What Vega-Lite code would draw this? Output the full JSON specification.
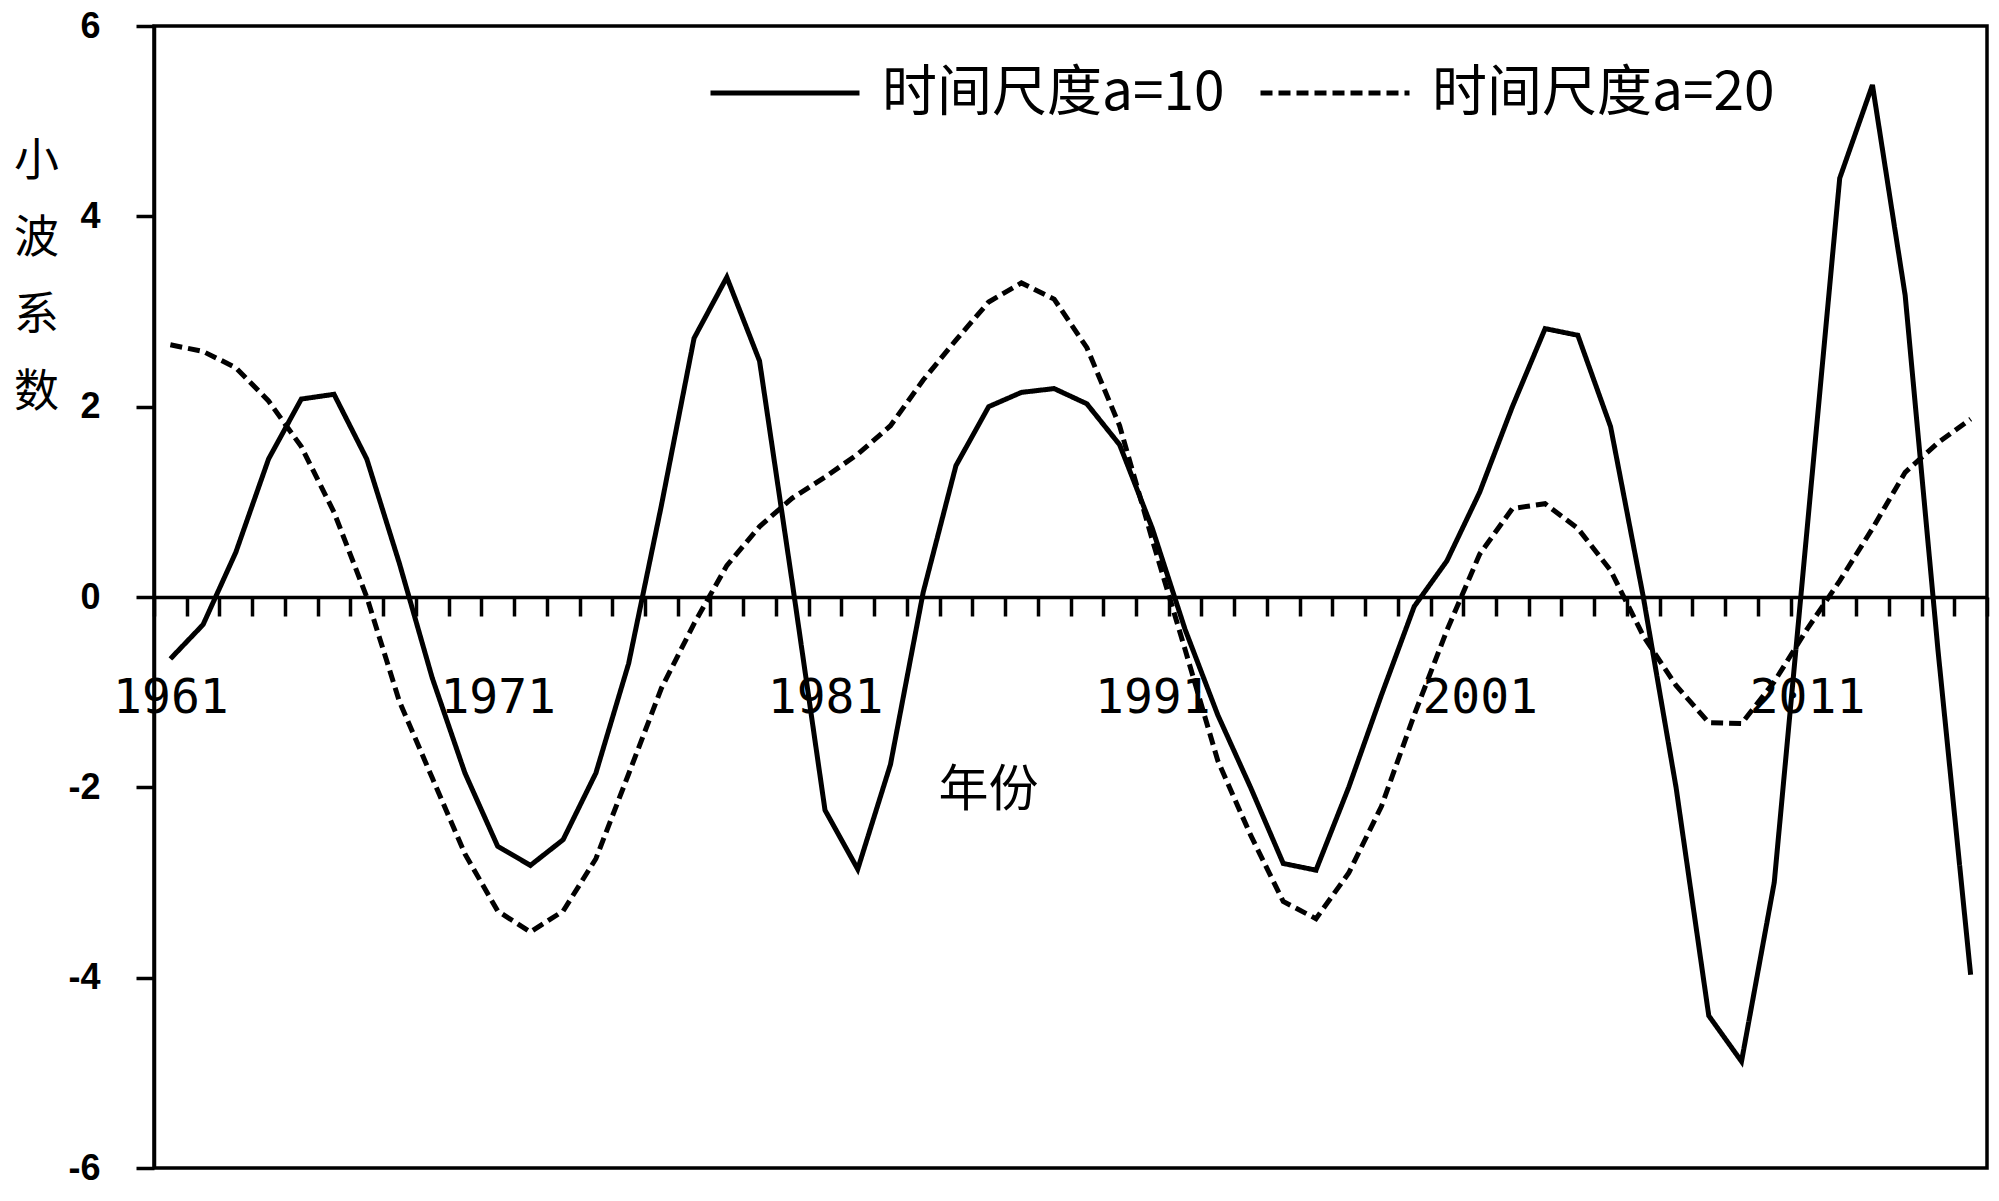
{
  "$schema": "https://vega.github.io/schema/vega-lite/v6.json",
  "width": 1833,
  "height": 1142,
  "autosize": {"type": "none"},
  "padding": {"left": 154, "top": 26, "right": 12, "bottom": 33},
  "background": "white",
  "config": {
    "view": {"stroke": "black", "strokeWidth": 3.5}
  },
  "data": {
    "values": [
      {"year": 1961, "series": "时间尺度a=10", "value": -0.65},
      {"year": 1962, "series": "时间尺度a=10", "value": -0.29},
      {"year": 1963, "series": "时间尺度a=10", "value": 0.47},
      {"year": 1964, "series": "时间尺度a=10", "value": 1.45},
      {"year": 1965, "series": "时间尺度a=10", "value": 2.08},
      {"year": 1966, "series": "时间尺度a=10", "value": 2.13},
      {"year": 1967, "series": "时间尺度a=10", "value": 1.45},
      {"year": 1968, "series": "时间尺度a=10", "value": 0.35},
      {"year": 1969, "series": "时间尺度a=10", "value": -0.85},
      {"year": 1970, "series": "时间尺度a=10", "value": -1.85},
      {"year": 1971, "series": "时间尺度a=10", "value": -2.62},
      {"year": 1972, "series": "时间尺度a=10", "value": -2.82},
      {"year": 1973, "series": "时间尺度a=10", "value": -2.55},
      {"year": 1974, "series": "时间尺度a=10", "value": -1.85},
      {"year": 1975, "series": "时间尺度a=10", "value": -0.7},
      {"year": 1976, "series": "时间尺度a=10", "value": 0.96},
      {"year": 1977, "series": "时间尺度a=10", "value": 2.72},
      {"year": 1978, "series": "时间尺度a=10", "value": 3.36},
      {"year": 1979, "series": "时间尺度a=10", "value": 2.48},
      {"year": 1980, "series": "时间尺度a=10", "value": 0.15},
      {"year": 1981, "series": "时间尺度a=10", "value": -2.24},
      {"year": 1982, "series": "时间尺度a=10", "value": -2.86},
      {"year": 1983, "series": "时间尺度a=10", "value": -1.76},
      {"year": 1984, "series": "时间尺度a=10", "value": 0.05},
      {"year": 1985, "series": "时间尺度a=10", "value": 1.38},
      {"year": 1986, "series": "时间尺度a=10", "value": 2.0},
      {"year": 1987, "series": "时间尺度a=10", "value": 2.15},
      {"year": 1988, "series": "时间尺度a=10", "value": 2.19},
      {"year": 1989, "series": "时间尺度a=10", "value": 2.03},
      {"year": 1990, "series": "时间尺度a=10", "value": 1.6},
      {"year": 1991, "series": "时间尺度a=10", "value": 0.72},
      {"year": 1992, "series": "时间尺度a=10", "value": -0.34},
      {"year": 1993, "series": "时间尺度a=10", "value": -1.24},
      {"year": 1994, "series": "时间尺度a=10", "value": -2.0},
      {"year": 1995, "series": "时间尺度a=10", "value": -2.8},
      {"year": 1996, "series": "时间尺度a=10", "value": -2.87},
      {"year": 1997, "series": "时间尺度a=10", "value": -2.0},
      {"year": 1998, "series": "时间尺度a=10", "value": -1.03},
      {"year": 1999, "series": "时间尺度a=10", "value": -0.1},
      {"year": 2000, "series": "时间尺度a=10", "value": 0.38},
      {"year": 2001, "series": "时间尺度a=10", "value": 1.1},
      {"year": 2002, "series": "时间尺度a=10", "value": 2.0},
      {"year": 2003, "series": "时间尺度a=10", "value": 2.82},
      {"year": 2004, "series": "时间尺度a=10", "value": 2.75},
      {"year": 2005, "series": "时间尺度a=10", "value": 1.79},
      {"year": 2006, "series": "时间尺度a=10", "value": 0.0},
      {"year": 2007, "series": "时间尺度a=10", "value": -2.0},
      {"year": 2008, "series": "时间尺度a=10", "value": -4.4},
      {"year": 2009, "series": "时间尺度a=10", "value": -4.88},
      {"year": 2010, "series": "时间尺度a=10", "value": -3.0},
      {"year": 2011, "series": "时间尺度a=10", "value": 0.7},
      {"year": 2012, "series": "时间尺度a=10", "value": 4.4},
      {"year": 2013, "series": "时间尺度a=10", "value": 5.38},
      {"year": 2014, "series": "时间尺度a=10", "value": 3.17},
      {"year": 2015, "series": "时间尺度a=10", "value": -0.55},
      {"year": 2016, "series": "时间尺度a=10", "value": -3.97},
      {"year": 1961, "series": "时间尺度a=20", "value": 2.65},
      {"year": 1962, "series": "时间尺度a=20", "value": 2.58},
      {"year": 1963, "series": "时间尺度a=20", "value": 2.41},
      {"year": 1964, "series": "时间尺度a=20", "value": 2.06},
      {"year": 1965, "series": "时间尺度a=20", "value": 1.58},
      {"year": 1966, "series": "时间尺度a=20", "value": 0.89},
      {"year": 1967, "series": "时间尺度a=20", "value": 0.0},
      {"year": 1968, "series": "时间尺度a=20", "value": -1.1},
      {"year": 1969, "series": "时间尺度a=20", "value": -1.9},
      {"year": 1970, "series": "时间尺度a=20", "value": -2.7},
      {"year": 1971, "series": "时间尺度a=20", "value": -3.3},
      {"year": 1972, "series": "时间尺度a=20", "value": -3.52},
      {"year": 1973, "series": "时间尺度a=20", "value": -3.3},
      {"year": 1974, "series": "时间尺度a=20", "value": -2.75},
      {"year": 1975, "series": "时间尺度a=20", "value": -1.86},
      {"year": 1976, "series": "时间尺度a=20", "value": -0.96},
      {"year": 1977, "series": "时间尺度a=20", "value": -0.28},
      {"year": 1978, "series": "时间尺度a=20", "value": 0.33},
      {"year": 1979, "series": "时间尺度a=20", "value": 0.74},
      {"year": 1980, "series": "时间尺度a=20", "value": 1.04},
      {"year": 1981, "series": "时间尺度a=20", "value": 1.26},
      {"year": 1982, "series": "时间尺度a=20", "value": 1.5},
      {"year": 1983, "series": "时间尺度a=20", "value": 1.8},
      {"year": 1984, "series": "时间尺度a=20", "value": 2.28},
      {"year": 1985, "series": "时间尺度a=20", "value": 2.7},
      {"year": 1986, "series": "时间尺度a=20", "value": 3.1},
      {"year": 1987, "series": "时间尺度a=20", "value": 3.3},
      {"year": 1988, "series": "时间尺度a=20", "value": 3.13},
      {"year": 1989, "series": "时间尺度a=20", "value": 2.62},
      {"year": 1990, "series": "时间尺度a=20", "value": 1.8},
      {"year": 1991, "series": "时间尺度a=20", "value": 0.6},
      {"year": 1992, "series": "时间尺度a=20", "value": -0.55},
      {"year": 1993, "series": "时间尺度a=20", "value": -1.72},
      {"year": 1994, "series": "时间尺度a=20", "value": -2.5},
      {"year": 1995, "series": "时间尺度a=20", "value": -3.2},
      {"year": 1996, "series": "时间尺度a=20", "value": -3.38},
      {"year": 1997, "series": "时间尺度a=20", "value": -2.9},
      {"year": 1998, "series": "时间尺度a=20", "value": -2.2},
      {"year": 1999, "series": "时间尺度a=20", "value": -1.24},
      {"year": 2000, "series": "时间尺度a=20", "value": -0.35},
      {"year": 2001, "series": "时间尺度a=20", "value": 0.45},
      {"year": 2002, "series": "时间尺度a=20", "value": 0.93},
      {"year": 2003, "series": "时间尺度a=20", "value": 0.98},
      {"year": 2004, "series": "时间尺度a=20", "value": 0.72},
      {"year": 2005, "series": "时间尺度a=20", "value": 0.28},
      {"year": 2006, "series": "时间尺度a=20", "value": -0.41},
      {"year": 2007, "series": "时间尺度a=20", "value": -0.93},
      {"year": 2008, "series": "时间尺度a=20", "value": -1.32},
      {"year": 2009, "series": "时间尺度a=20", "value": -1.33},
      {"year": 2010, "series": "时间尺度a=20", "value": -0.89},
      {"year": 2011, "series": "时间尺度a=20", "value": -0.34},
      {"year": 2012, "series": "时间尺度a=20", "value": 0.17},
      {"year": 2013, "series": "时间尺度a=20", "value": 0.72},
      {"year": 2014, "series": "时间尺度a=20", "value": 1.31},
      {"year": 2015, "series": "时间尺度a=20", "value": 1.62},
      {"year": 2016, "series": "时间尺度a=20", "value": 1.87}
    ]
  },
  "mark": {"type": "line", "color": "black", "strokeWidth": 5, "interpolate": "linear"},
  "encoding": {
    "x": {
      "field": "year",
      "type": "quantitative",
      "scale": {"domain": [1960.5, 2016.5], "nice": false, "zero": false},
      "axis": {
        "values": [1960.5,1961.5,1962.5,1963.5,1964.5,1965.5,1966.5,1967.5,1968.5,1969.5,1970.5,1971.5,1972.5,1973.5,1974.5,1975.5,1976.5,1977.5,1978.5,1979.5,1980.5,1981.5,1982.5,1983.5,1984.5,1985.5,1986.5,1987.5,1988.5,1989.5,1990.5,1991.5,1992.5,1993.5,1994.5,1995.5,1996.5,1997.5,1998.5,1999.5,2000.5,2001.5,2002.5,2003.5,2004.5,2005.5,2006.5,2007.5,2008.5,2009.5,2010.5,2011.5,2012.5,2013.5,2014.5,2015.5,2016.5],
        "labelExpr": "(datum.value - 1960.5) % 10 === 0 && datum.value < 2016 ? format(datum.value + 0.5, 'd') : ''",
        "labelOffset": 16.4,
        "labelFlush": false,
        "labelOverlap": false,
        "labelBound": false,
        "labelFont": "DejaVu Sans Mono",
        "labelFontSize": 48,
        "labelColor": "black",
        "labelPadding": 58,
        "offset": -571,
        "domain": true,
        "domainColor": "black",
        "domainWidth": 3.5,
        "ticks": true,
        "tickSize": 19,
        "tickWidth": 3.5,
        "tickColor": "black",
        "grid": false,
        "title": "年份",
        "titleFont": "Noto Sans CJK SC",
        "titleFontSize": 50,
        "titleFontWeight": "normal",
        "titleColor": "black",
        "titleX": 834,
        "titleY": 193,
        "titleAlign": "center",
        "titleBaseline": "middle",
        "titleAnchor": null
      }
    },
    "y": {
      "field": "value",
      "type": "quantitative",
      "scale": {"domain": [-6, 6], "nice": false, "zero": false},
      "axis": {
        "values": [-6, -4, -2, 0, 2, 4, 6],
        "labelExpr": "datum.value < 0 ? '-' + abs(datum.value) : '' + datum.value",
        "domain": true,
        "domainColor": "black",
        "domainWidth": 3.5,
        "ticks": true,
        "tickSize": 18,
        "tickWidth": 3.5,
        "tickColor": "black",
        "grid": false,
        "labelFont": "Liberation Sans",
        "labelFontWeight": "bold",
        "labelFontSize": 36,
        "labelColor": "black",
        "labelPadding": 36,
        "title": ["小", "波", "系", "数"],
        "titleFont": "Noto Sans CJK SC",
        "titleFontSize": 45,
        "titleFontWeight": "normal",
        "titleColor": "black",
        "titleAngle": 0,
        "titleX": -118,
        "titleY": 113,
        "titleAlign": "center",
        "titleBaseline": "top",
        "titleLineHeight": 77
      }
    },
    "strokeDash": {
      "field": "series",
      "type": "nominal",
      "scale": {"domain": ["时间尺度a=10", "时间尺度a=20"], "range": [[1, 0], [12, 6]]},
      "legend": {
        "orient": "none",
        "legendX": 554,
        "legendY": -10,
        "direction": "horizontal",
        "title": null,
        "symbolType": "stroke",
        "symbolSize": 22200,
        "symbolStrokeWidth": 5,
        "symbolStrokeColor": "black",
        "labelFont": "Noto Sans CJK SC",
        "labelFontSize": 55,
        "labelColor": "black",
        "labelOffset": 20,
        "columnPadding": 25,
        "labelLimit": 0
      }
    }
  }
}
